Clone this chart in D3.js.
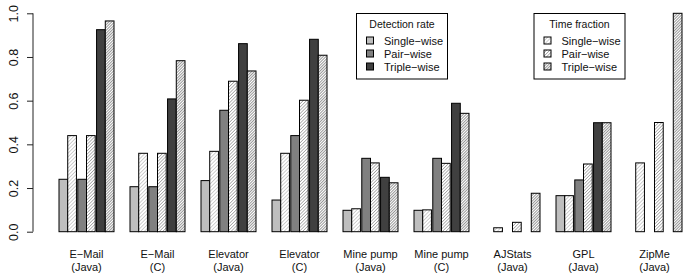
<!DOCTYPE html>
<html>
<head>
<meta charset="utf-8">
<script src="https://cdn.jsdelivr.net/npm/d3@7"></script>
<style>
  body { margin: 0; background: #fff; }
  text { font-family: "Liberation Sans", Arial, sans-serif; fill: #111; }
</style>
</head>
<body>
<div id="chart"></div>
<script>
// subjects (two-line labels)
var subjects = ["E\u2212Mail", "E\u2212Mail", "Elevator", "Elevator", "Mine pump", "Mine pump", "AJStats", "GPL", "ZipMe"];
var languages = ["(Java)", "(C)", "(Java)", "(C)", "(Java)", "(C)", "(Java)", "(Java)", "(Java)"];
var levels = ["Single\u2212wise", "Pair\u2212wise", "Triple\u2212wise"];

// detection rate per level (null = no bar)
var detSingle = [0.24, 0.206, 0.234, 0.145, 0.098, 0.098, null, 0.165, null];
var detPair   = [0.24, 0.206, 0.556, 0.44, 0.336, 0.336, null, 0.237, null];
var detTriple = [0.925, 0.608, 0.861, 0.881, 0.249, 0.588, null, 0.499, null];

// time fraction per level
var timeSingle = [0.44, 0.359, 0.368, 0.359, 0.105, 0.1, 0.018, 0.165, 0.315];
var timePair   = [0.44, 0.359, 0.689, 0.602, 0.315, 0.313, 0.043, 0.31, 0.5];
var timeTriple = [0.965, 0.783, 0.736, 0.808, 0.224, 0.542, 0.176, 0.499, 1.0];

var yTicks = [0, 0.2, 0.4, 0.6, 0.8, 1.0];

var width = 700, height = 280;

var svg = d3.select("#chart").append("svg")
    .attr("width", width)
    .attr("height", height);

var detColors = ["#bebebe", "#808080", "#404040"];
var hatch = [
    {id: "h0", color: "#a8a8a8", gap: 2.6},
    {id: "h1", color: "#7a7a7a", gap: 2.3},
    {id: "h2", color: "#404040", gap: 2.0}
];

var defs = svg.append("defs");
hatch.forEach(function(h) {
    var p = defs.append("pattern")
        .attr("id", h.id)
        .attr("patternUnits", "userSpaceOnUse")
        .attr("width", h.gap)
        .attr("height", h.gap)
        .attr("patternTransform", "rotate(45)");
    p.append("rect").attr("width", h.gap).attr("height", h.gap).attr("fill", "#fff");
    p.append("line")
        .attr("x1", 0).attr("y1", 0).attr("x2", 0).attr("y2", h.gap)
        .attr("stroke", h.color).attr("stroke-width", 1.1);
});

var x0 = d3.scaleBand()
    .domain(d3.range(subjects.length))
    .range([59, 682])
    .paddingInner(16 / 71);

var xPair = d3.scaleBand()
    .domain([0, 1, 2])
    .range([0, x0.bandwidth()])
    .paddingInner(0.0714);

var xBar = d3.scaleBand()
    .domain(["det", "time"])
    .range([0, xPair.bandwidth()]);

var y = d3.scaleLinear()
    .domain([0, 1])
    .range([231.7, 13.3]);

// build bar table
var det = [detSingle, detPair, detTriple];
var time = [timeSingle, timePair, timeTriple];
var bars = [];
subjects.forEach(function(s, i) {
    for (var l = 0; l < 3; l++) {
        if (det[l][i] != null) bars.push({g: i, l: l, kind: "det", v: det[l][i]});
        if (time[l][i] != null) bars.push({g: i, l: l, kind: "time", v: time[l][i]});
    }
});

svg.append("g").selectAll("rect")
    .data(bars)
    .enter().append("rect")
    .attr("x", function(d) { return x0(d.g) + xPair(d.l) + xBar(d.kind); })
    .attr("y", function(d) { return y(d.v); })
    .attr("width", xBar.bandwidth())
    .attr("height", function(d) { return y(0) - y(d.v); })
    .attr("fill", function(d) { return d.kind == "det" ? detColors[d.l] : "url(#" + hatch[d.l].id + ")"; })
    .attr("stroke", "#000")
    .attr("stroke-width", 1);

// y axis
var yAxis = svg.append("g")
    .attr("transform", "translate(33,0)")
    .call(d3.axisLeft(y).tickValues(yTicks).tickFormat(d3.format(".1f")).tickSize(6));
yAxis.select(".domain").attr("stroke", "#222").attr("d", "M0," + y(0) + "V" + y(1));
yAxis.selectAll(".tick line").attr("stroke", "#222");
yAxis.selectAll(".tick text")
    .attr("x", 0).attr("dy", 0)
    .attr("transform", "translate(-15,0) rotate(-90)")
    .attr("text-anchor", "middle")
    .style("font-size", "12.5px")
    .style("font-family", "Liberation Sans, Arial, sans-serif")
    .attr("fill", "#111");

// category labels
var labels = svg.append("g");
subjects.forEach(function(s, i) {
    var cx = x0(i) + x0.bandwidth() / 2;
    labels.append("text").attr("x", cx).attr("y", 258)
        .attr("text-anchor", "middle").style("font-size", "11px").text(s);
    labels.append("text").attr("x", cx).attr("y", 271)
        .attr("text-anchor", "middle").style("font-size", "11px").text(languages[i]);
});

// legends
function legend(x, title, fills) {
    var g = svg.append("g").attr("transform", "translate(" + x + ",13.5)");
    g.append("rect").attr("width", 91).attr("height", 65.5)
        .attr("fill", "#fff").attr("stroke", "#000");
    g.append("text").attr("x", 45.5).attr("y", 14.5)
        .attr("text-anchor", "middle").style("font-size", "10.5px").text(title);
    levels.forEach(function(t, i) {
        var cy = 27 + i * 13;
        g.append("rect").attr("x", 10).attr("y", cy - 3.5).attr("width", 7).attr("height", 7)
            .attr("fill", fills[i]).attr("stroke", "#000");
        g.append("text").attr("x", 27.5).attr("y", cy + 4)
            .style("font-size", "11px").text(t);
    });
}
legend(356.5, "Detection rate", detColors);
legend(534, "Time fraction", hatch.map(function(h) { return "url(#" + h.id + ")"; }));
</script>
</body>
</html>
